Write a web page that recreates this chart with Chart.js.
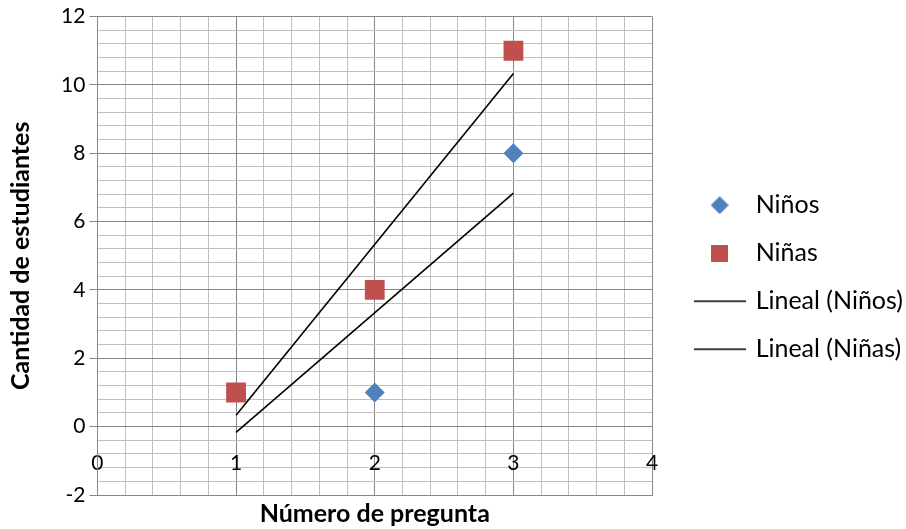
<!DOCTYPE html>
<html>
<head>
<meta charset="utf-8">
<script src="https://cdn.jsdelivr.net/npm/chart.js@4/dist/chart.umd.min.js"></script>
<style>
html,body{margin:0;padding:0;background:#fff;}
#wrap{width:906px;height:529px;}
</style>
</head>
<body>
<div id="wrap"><canvas id="c" width="906" height="529"></canvas></div>
<script>
// ---- data ----
const questions = [1, 2, 3];
const ninos = [1, 1, 8];
const ninas = [1, 4, 11];
const seriesNames = ['Niños', 'Niñas', 'Lineal (Niños)', 'Lineal (Niñas)'];
const xTickLabels = ['0', '1', '2', '3', '4'];
const yTickLabels = ['-2', '0', '2', '4', '6', '8', '10', '12'];

const FONT = 'Lato, "Open Sans", sans-serif';
const BLUE = '#4f81bd', RED = '#c0504d';
const MAJOR = '#868686', MINOR = '#bfbfbf';

function linReg(xs, ys) {
  const n = xs.length;
  const mx = xs.reduce((a, b) => a + b, 0) / n;
  const my = ys.reduce((a, b) => a + b, 0) / n;
  let sxy = 0, sxx = 0;
  for (let i = 0; i < n; i++) { sxy += (xs[i] - mx) * (ys[i] - my); sxx += (xs[i] - mx) ** 2; }
  const m = sxy / sxx, b = my - m * mx;
  const x0 = Math.min(...xs), x1 = Math.max(...xs);
  return [{x: x0, y: m * x0 + b}, {x: x1, y: m * x1 + b}];
}
const pts = (xs, ys) => xs.map((x, i) => ({x, y: ys[i]}));

function isMult(v, s) { const r = v / s; return Math.abs(r - Math.round(r)) < 1e-6; }

// legend marker images
function mk(w, h, draw) { const c = document.createElement('canvas'); c.width = w; c.height = h; draw(c.getContext('2d'), w, h); return c; }
const legDiamond = mk(18, 18, (g, w, h) => { g.fillStyle = BLUE; g.beginPath(); g.moveTo(w/2, 0); g.lineTo(w, h/2); g.lineTo(w/2, h); g.lineTo(0, h/2); g.closePath(); g.fill(); });
const legSquare = mk(17, 17, (g, w, h) => { g.fillStyle = RED; g.fillRect(0, 0, w, h); });
const legLine = mk(52, 4, (g, w, h) => { g.strokeStyle = '#000'; g.lineWidth = 1.5; g.beginPath(); g.moveTo(0, 2); g.lineTo(w, 2); g.stroke(); });
const legImgs = [legDiamond, legSquare, legLine, legLine];

new Chart(document.getElementById('c'), {
  type: 'scatter',
  data: {
    datasets: [
      { label: seriesNames[0], data: pts(questions, ninos), pointStyle: 'rectRot', pointRadius: 10, pointHoverRadius: 10,
        backgroundColor: BLUE, borderColor: BLUE, borderWidth: 0, order: 2 },
      { label: seriesNames[1], data: pts(questions, ninas), pointStyle: 'rect', pointRadius: 14, pointHoverRadius: 14,
        backgroundColor: RED, borderColor: RED, borderWidth: 0, order: 1 },
      { label: seriesNames[2], data: linReg(questions, ninos), showLine: true, pointRadius: 0, borderColor: '#000', borderWidth: 1.6, order: 3 },
      { label: seriesNames[3], data: linReg(questions, ninas), showLine: true, pointRadius: 0, borderColor: '#000', borderWidth: 1.6, order: 4 }
    ]
  },
  options: {
    responsive: false,
    animation: false,
    events: [],
    layout: { padding: { top: 11, left: 0, right: -7, bottom: 0 } },
    plugins: {
      tooltip: { enabled: false },
      legend: {
        position: 'right',
        maxWidth: 320,
        title: { display: true, text: ' ', padding: 0, font: { size: 12 } },
        labels: {
          usePointStyle: true,
          pointStyleWidth: 47,
          padding: 23,
          color: '#000',
          font: { family: FONT, size: 25 },
          generateLabels: (chart) => chart.data.datasets.map((d, i) => ({
            text: d.label, pointStyle: legImgs[i], fillStyle: 'transparent', strokeStyle: 'transparent',
            lineWidth: 0, hidden: false, datasetIndex: i, fontColor: '#000'
          }))
        }
      }
    },
    scales: {
      x: {
        type: 'linear', position: 'bottom', min: 0, max: 4,
        ticks: { stepSize: 0.2, display: false, autoSkip: false },
        grid: { drawTicks: false, lineWidth: 1, color: (ctx) => isMult(ctx.tick.value, 1) ? MAJOR : MINOR },
        border: { display: true, color: MAJOR },
        title: { display: true, text: 'Número de pregunta', color: '#000', font: { family: FONT, size: 25, weight: 'bold' }, padding: { top: 4, bottom: 0 } }
      },
      x2: {
        type: 'linear', axis: 'x', position: { y: 0 }, min: 0, max: 4,
        ticks: { stepSize: 1, color: '#000', font: { family: FONT, size: 21 }, padding: 24, maxRotation: 0,
                 callback: (v) => isMult(v, 1) ? xTickLabels[Math.round(v)] : '' },
        grid: { display: false, drawTicks: false },
        border: { display: true, color: MAJOR }
      },
      y: {
        type: 'linear', position: 'left', min: -2, max: 12,
        ticks: { stepSize: 0.4, autoSkip: false, color: '#000', font: { family: FONT, size: 21 }, padding: 4,
                 callback: (v) => isMult(v, 2) ? yTickLabels[Math.round((v + 2) / 2)] : '' },
        grid: { lineWidth: 1, tickLength: 8,
                color: (ctx) => isMult(ctx.tick.value, 2) ? MAJOR : MINOR,
                tickColor: (ctx) => isMult(ctx.tick.value, 2) ? MAJOR : 'rgba(0,0,0,0)' },
        border: { display: true, color: MAJOR },
        title: { display: true, text: 'Cantidad de estudiantes', color: '#000', font: { family: FONT, size: 25, weight: 'bold' }, padding: { top: 6, bottom: 21 } }
      },
      yR: {
        type: 'linear', axis: 'y', position: 'right', display: true,
        ticks: { display: false }, grid: { display: false, drawTicks: false }, border: { display: false },
        afterFit: (s) => { s.width = 21; }
      }
    }
  }
});
</script>
</body>
</html>
